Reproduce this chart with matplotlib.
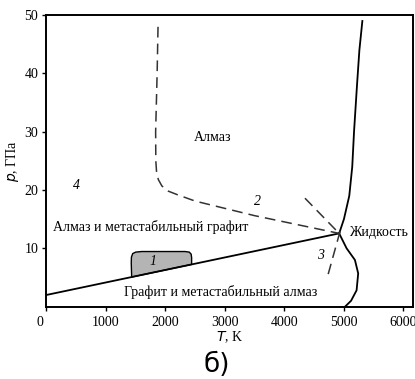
import numpy as np
import matplotlib
matplotlib.use("Agg")
import matplotlib.pyplot as plt
from matplotlib.transforms import ScaledTranslation

plt.rcParams['font.family'] = ['Liberation Serif', 'DejaVu Serif']

# линия равновесия графит-алмаз (до тройной точки)
eq_T = [0, 4920]
eq_p = [2.0, 12.56]

# линия плавления алмаза
melt_d_T = [4920, 5000, 5090, 5140, 5170, 5220, 5260, 5310]
melt_d_p = [12.56, 15, 19, 24, 30, 38, 44, 49]

# линия плавления графита
melt_g_T = [4920, 5045, 5185, 5240, 5213, 5120, 5020]
melt_g_p = [12.56, 10, 8, 5.7, 2.8, 1.0, 0]

# кривая 2 (пунктир)
c2_T = [1875, 1860, 1835, 1838, 1850, 1880, 1940, 2050, 2200, 2500, 3500, 4920]
c2_p = [48, 40, 30, 25, 23.2, 21.8, 20.7, 19.8, 19.2, 18.1, 15.6, 12.56]

# пунктирные продолжения
d1_T = [4345, 4920]
d1_p = [18.6, 12.56]
d3_T = [4935, 4720]
d3_p = [12.9, 5.0]

# область 1
r1_T = [1432, 1425, 1428, 1450, 1500, 1600, 2330, 2400, 2432, 2440, 2440]
r1_p = [5.07, 7.5, 8.5, 9.1, 9.35, 9.45, 9.45, 9.35, 9.0, 8.4, 7.24]

fig = plt.figure(figsize=(4.15, 3.79), dpi=100)
ax = fig.add_axes([0.112, 0.191, 0.883, 0.769])

ax.plot(eq_T, eq_p, color='black', lw=1.3)
ax.plot(melt_d_T, melt_d_p, color='black', lw=1.3)
ax.plot(melt_g_T, melt_g_p, color='black', lw=1.3)
ax.plot(c2_T, c2_p, color='#333333', lw=1.1, ls=(0, (7, 4)))
ax.plot(d1_T, d1_p, color='#333333', lw=1.1, ls=(0, (7, 4)))
ax.plot(d3_T, d3_p, color='#333333', lw=1.1, ls=(0, (7, 4)))
rT = r1_T + [1432]
rp = r1_p + [5.07]
ax.fill(rT, rp, facecolor='#b4b4b4', edgecolor='black', lw=1.0)

fs = 10
ax.text(2800, 29, 'Алмаз', fontsize=fs, ha='center', va='center')
ax.text(110, 13.7, 'Алмаз и метастабильный графит', fontsize=fs, ha='left', va='center')
ax.text(2930, 2.5, 'Графит и метастабильный алмаз', fontsize=fs, ha='center', va='center')
ax.text(5080, 12.7, 'Жидкость', fontsize=fs, ha='left', va='center')
ax.text(1785, 7.8, '1', fontsize=fs, style='italic', ha='center', va='center')
ax.text(3540, 18.1, '2', fontsize=fs, style='italic', ha='center', va='center')
ax.text(4600, 8.7, '3', fontsize=fs, style='italic', ha='center', va='center')
ax.text(500, 20.8, '4', fontsize=fs, style='italic', ha='center', va='center')

ax.set_xlim(0, 6160)
ax.set_ylim(0, 50)
ax.set_xticks([0, 1000, 2000, 3000, 4000, 5000, 6000])
ax.set_yticks([10, 20, 30, 40, 50])
ax.tick_params(direction='out', length=3, width=1, labelsize=fs)
ax.tick_params(axis='x', pad=4)
ax.tick_params(axis='y', pad=3)
for s in ax.spines.values():
    s.set_linewidth(1.4)
lab0 = ax.get_xticklabels()[0]
lab0.set_transform(lab0.get_transform() + ScaledTranslation(-7 / 100, 0, fig.dpi_scale_trans))

ax.set_xlabel('$\\it{T}$, K', fontsize=fs, labelpad=0)
ax.set_ylabel('$\\it{p}$, ГПа', fontsize=fs, labelpad=2)

fig.text(217 / 415, 1 - 365 / 379, 'б)', fontsize=19, ha='center', va='center',
         family=['DejaVu Sans'])

fig.savefig('out.png', dpi=100)
